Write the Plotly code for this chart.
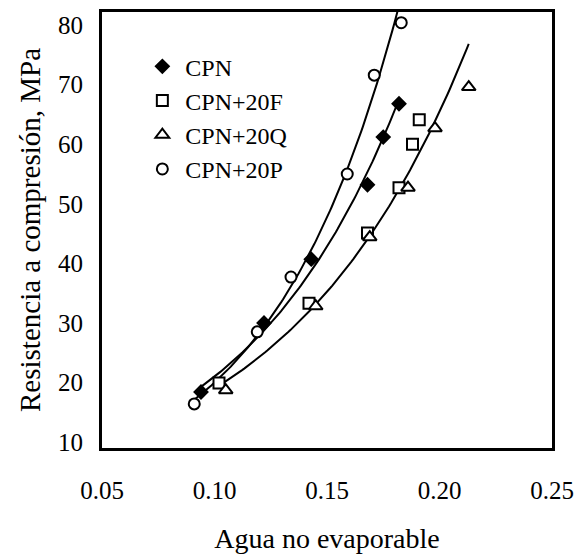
import numpy as np
import plotly.graph_objects as go

# --- data ---
cpn_x = [0.094, 0.122, 0.143, 0.168, 0.175, 0.182]
cpn_y = [18.4, 30.0, 40.7, 53.2, 61.2, 66.8]

f_x = [0.102, 0.142, 0.168, 0.182, 0.188, 0.191]
f_y = [19.9, 33.3, 45.1, 52.7, 60.0, 64.1]

q_x = [0.105, 0.145, 0.169, 0.186, 0.198, 0.213]
q_y = [18.7, 32.8, 44.4, 52.7, 62.7, 69.6]

p_x = [0.091, 0.119, 0.134, 0.159, 0.171, 0.183]
p_y = [16.4, 28.5, 37.7, 55.0, 71.6, 80.4]

x_ticks = [0.05, 0.10, 0.15, 0.20, 0.25]
x_tick_labels = ["0.05", "0.10", "0.15", "0.20", "0.25"]
y_ticks = [10, 20, 30, 40, 50, 60, 70, 80]

FONT = "Liberation Serif"


def exp_trend(xs, ys, n=120):
    xs = np.asarray(xs, float)
    ys = np.asarray(ys, float)
    b, lna = np.polyfit(xs, np.log(ys), 1)
    t = np.linspace(xs.min(), xs.max(), n)
    return t, np.exp(lna + b * t)


fig = go.Figure()

# trend curves
for xs, ys in [(cpn_x, cpn_y), (f_x + q_x, f_y + q_y), (p_x, p_y)]:
    tx, ty = exp_trend(xs, ys)
    fig.add_trace(go.Scatter(x=tx, y=ty, mode="lines",
                             line=dict(color="black", width=2),
                             showlegend=False, hoverinfo="skip"))

marker_specs = [
    ("CPN", cpn_x, cpn_y, "diamond", "black", 10),
    ("CPN+20F", f_x, f_y, "square", "white", 11),
    ("CPN+20Q", q_x, q_y, "triangle-up", "white", 12),
    ("CPN+20P", p_x, p_y, "circle", "white", 11),
]
for name, xs, ys, sym, fill, size in marker_specs:
    fig.add_trace(go.Scatter(
        x=xs, y=ys, mode="markers", name=name,
        marker=dict(symbol=sym, color=fill, size=size,
                    line=dict(color="black", width=2)),
    ))

# page body has an 8px default margin, so the figure is sized/offset for it
fig.update_layout(
    width=575, height=549,
    margin=dict(l=94, r=31, t=4, b=109),
    paper_bgcolor="white", plot_bgcolor="white",
    font=dict(family=FONT, color="black", size=24),
    legend=dict(x=0.083, y=0.926, xanchor="left", yanchor="top",
                bgcolor="rgba(0,0,0,0)", font=dict(size=24, family=FONT),
                itemwidth=36),
)
fig.update_xaxes(range=[0.05, 0.25], tickvals=x_ticks, ticktext=x_tick_labels,
                 automargin=False,
                 showgrid=False, zeroline=False, showline=True, mirror=True,
                 linecolor="black", linewidth=3, ticks="",
                 tickfont=dict(size=25, family=FONT), ticklabelstandoff=18,
                 title=dict(text="Agua no evaporable",
                            font=dict(size=28, family=FONT), standoff=26))
fig.update_yaxes(range=[9.0, 82.2], tickvals=y_ticks,
                 automargin=False,
                 showgrid=False, zeroline=False, showline=True, mirror=True,
                 linecolor="black", linewidth=3, ticks="",
                 tickfont=dict(size=25, family=FONT), ticklabelstandoff=11,
                 title=dict(text="Resistencia a compresión, MPa",
                            font=dict(size=29, family=FONT), standoff=9))

fig.write_html("out.html")
